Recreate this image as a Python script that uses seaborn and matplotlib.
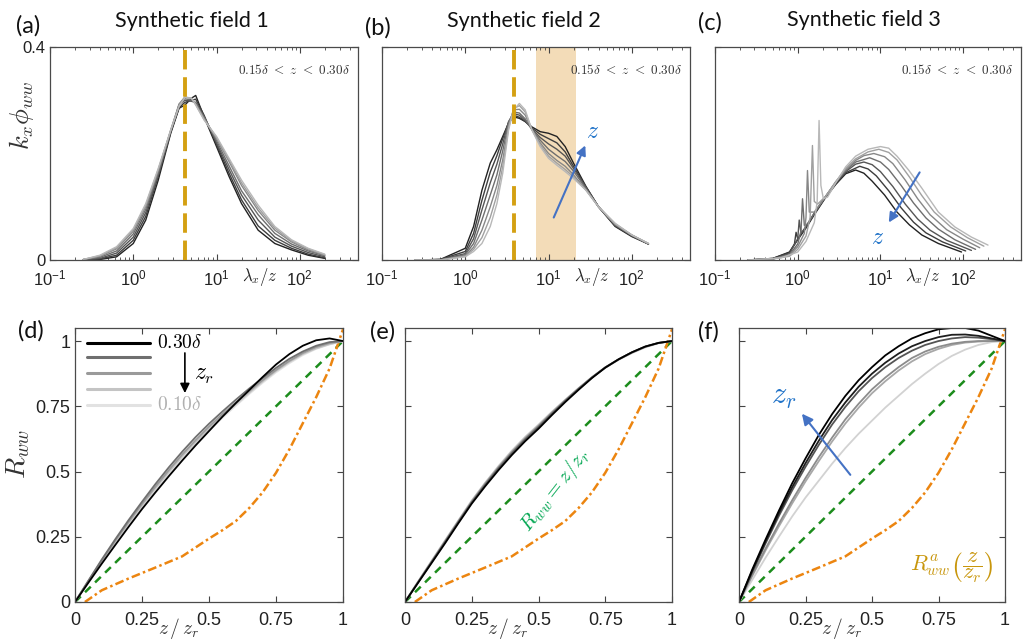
import numpy as np
import seaborn as sns
import matplotlib.pyplot as plt
from matplotlib.ticker import LogLocator, NullFormatter

# ---------------- data ----------------
# top row: log10(lambda_x / z) and k_x phi_ww, curves ordered dark -> light
a_log_lam = [-0.6, -0.4, -0.2, 0.0, 0.15, 0.3, 0.45, 0.55, 0.62, 0.7,
             0.75, 0.85, 1.0, 1.15, 1.3, 1.5, 1.7, 1.9, 2.1, 2.3]
a_kphi = [
    [0.000, 0.001, 0.006, 0.031, 0.075, 0.150, 0.238, 0.285, 0.291, 0.304,
     0.309, 0.269, 0.213, 0.157, 0.106, 0.056, 0.031, 0.019, 0.009, 0.003],
    [0.000, 0.002, 0.009, 0.037, 0.082, 0.157, 0.240, 0.286, 0.296, 0.300,
     0.302, 0.272, 0.217, 0.163, 0.113, 0.064, 0.037, 0.022, 0.011, 0.004],
    [0.000, 0.003, 0.013, 0.043, 0.089, 0.160, 0.241, 0.290, 0.300, 0.298,
     0.296, 0.270, 0.220, 0.170, 0.122, 0.075, 0.043, 0.026, 0.014, 0.006],
    [0.001, 0.005, 0.017, 0.049, 0.095, 0.163, 0.242, 0.292, 0.303, 0.300,
     0.294, 0.268, 0.224, 0.177, 0.130, 0.085, 0.050, 0.030, 0.017, 0.008],
    [0.001, 0.007, 0.021, 0.054, 0.100, 0.168, 0.244, 0.293, 0.306, 0.303,
     0.293, 0.266, 0.228, 0.185, 0.140, 0.093, 0.056, 0.034, 0.019, 0.009],
    [0.001, 0.008, 0.023, 0.057, 0.103, 0.170, 0.244, 0.290, 0.306, 0.304,
     0.292, 0.264, 0.230, 0.188, 0.145, 0.098, 0.060, 0.036, 0.021, 0.010],
    [0.001, 0.009, 0.025, 0.059, 0.106, 0.172, 0.244, 0.288, 0.305, 0.304,
     0.291, 0.263, 0.232, 0.191, 0.150, 0.103, 0.063, 0.038, 0.022, 0.011],
]

b_log_lam = [-0.6, -0.3, 0.0, 0.1, 0.2, 0.3, 0.38, 0.45, 0.52, 0.58, 0.65, 0.72,
             0.8, 0.9, 1.0, 1.1, 1.2, 1.3, 1.45, 1.6, 1.8, 2.0, 2.2]
b_kphi = [
    [0.0, 0.001, 0.022, 0.063, 0.131, 0.182, 0.207, 0.232, 0.257, 0.269, 0.266, 0.260,
     0.250, 0.241, 0.238, 0.232, 0.213, 0.182, 0.138, 0.100, 0.063, 0.044, 0.030],
    [0.0, 0.001, 0.016, 0.050, 0.112, 0.165, 0.196, 0.228, 0.258, 0.272, 0.268, 0.260,
     0.248, 0.236, 0.228, 0.220, 0.203, 0.176, 0.137, 0.100, 0.064, 0.045, 0.030],
    [0.0, 0.001, 0.012, 0.040, 0.094, 0.145, 0.180, 0.218, 0.260, 0.275, 0.272, 0.262,
     0.246, 0.230, 0.218, 0.208, 0.195, 0.172, 0.136, 0.100, 0.065, 0.046, 0.030],
    [0.0, 0.000, 0.010, 0.031, 0.075, 0.122, 0.160, 0.205, 0.258, 0.278, 0.276, 0.265,
     0.245, 0.225, 0.208, 0.196, 0.185, 0.167, 0.134, 0.100, 0.066, 0.046, 0.030],
    [0.0, 0.000, 0.008, 0.024, 0.056, 0.100, 0.140, 0.188, 0.252, 0.282, 0.283, 0.272,
     0.245, 0.220, 0.200, 0.187, 0.176, 0.160, 0.132, 0.100, 0.067, 0.047, 0.031],
    [0.0, 0.000, 0.007, 0.020, 0.042, 0.080, 0.122, 0.175, 0.248, 0.284, 0.290, 0.278,
     0.245, 0.216, 0.195, 0.182, 0.170, 0.156, 0.131, 0.100, 0.068, 0.047, 0.031],
    [0.0, 0.000, 0.006, 0.016, 0.031, 0.063, 0.106, 0.163, 0.244, 0.282, 0.294, 0.282,
     0.244, 0.213, 0.191, 0.178, 0.166, 0.153, 0.131, 0.100, 0.069, 0.047, 0.031],
]

c_log_lam = [
    [-0.6, -0.3, -0.1, 0.0, 0.1, 0.2, 0.34, 0.46, 0.58, 0.70, 0.80, 0.90, 1.05, 1.20,
     1.35, 1.50, 1.70, 1.98],
    [-0.6, -0.3, -0.1, -0.04, -0.02, 0.0, 0.1, 0.2, 0.34, 0.46, 0.58, 0.75, 0.85, 0.95,
     1.1, 1.25, 1.4, 1.55, 1.75, 2.03],
    [-0.6, -0.3, -0.1, 0.0, 0.018, 0.04, 0.1, 0.2, 0.34, 0.46, 0.58, 0.7, 0.8, 0.9, 1.0,
     1.15, 1.3, 1.45, 1.6, 1.8, 2.1],
    [-0.6, -0.3, -0.1, 0.0, 0.04, 0.058, 0.08, 0.12, 0.2, 0.34, 0.46, 0.58, 0.7, 0.87,
     1.0, 1.1, 1.25, 1.4, 1.55, 1.7, 1.9, 2.15],
    [-0.6, -0.3, -0.1, 0.0, 0.08, 0.1, 0.118, 0.14, 0.2, 0.34, 0.46, 0.58, 0.7, 0.8, 0.92,
     1.05, 1.15, 1.3, 1.45, 1.6, 1.8, 2.0, 2.2],
    [-0.6, -0.3, -0.1, 0.0, 0.1, 0.15, 0.178, 0.2, 0.24, 0.34, 0.46, 0.58, 0.7, 0.85, 0.98,
     1.1, 1.2, 1.35, 1.5, 1.65, 1.85, 2.05, 2.25],
    [-0.6, -0.2, 0.0, 0.1, 0.2, 0.235, 0.258, 0.28, 0.31, 0.36, 0.46, 0.58, 0.7, 0.85, 1.0,
     1.1, 1.2, 1.34, 1.5, 1.7, 1.9, 2.1, 2.3],
]
c_kphi = [
    [0, 0.003, 0.015, 0.038, 0.06, 0.085, 0.118, 0.142, 0.162, 0.169, 0.163, 0.148, 0.122,
     0.090, 0.066, 0.047, 0.031, 0.015],
    [0, 0.003, 0.014, 0.03, 0.052, 0.04, 0.062, 0.087, 0.119, 0.143, 0.164, 0.176, 0.171,
     0.158, 0.130, 0.098, 0.071, 0.051, 0.034, 0.017],
    [0, 0.002, 0.012, 0.04, 0.075, 0.05, 0.063, 0.088, 0.12, 0.145, 0.166, 0.18, 0.184,
     0.179, 0.166, 0.138, 0.105, 0.077, 0.056, 0.037, 0.018],
    [0, 0.002, 0.01, 0.03, 0.055, 0.115, 0.065, 0.068, 0.088, 0.12, 0.146, 0.168, 0.184,
     0.192, 0.184, 0.17, 0.14, 0.107, 0.079, 0.058, 0.038, 0.02],
    [0, 0.002, 0.009, 0.025, 0.05, 0.08, 0.168, 0.09, 0.09, 0.12, 0.147, 0.17, 0.187, 0.196,
     0.2, 0.194, 0.181, 0.15, 0.115, 0.085, 0.057, 0.039, 0.023],
    [0, 0.002, 0.007, 0.02, 0.045, 0.08, 0.215, 0.11, 0.105, 0.12, 0.147, 0.172, 0.19, 0.203,
     0.208, 0.202, 0.188, 0.156, 0.121, 0.09, 0.062, 0.042, 0.026],
    [0, 0.004, 0.015, 0.035, 0.07, 0.11, 0.262, 0.14, 0.115, 0.118, 0.145, 0.175, 0.195,
     0.208, 0.213, 0.21, 0.195, 0.169, 0.135, 0.09, 0.062, 0.043, 0.028],
]

peak_line_a = 4.17
peak_line_b = 3.84
band_b = [7.05, 21.3]

# bottom row: R_ww against z / z_r, curves ordered dark -> light
z_ratio = [0, .05, .1, .15, .2, .25, .3, .35, .4, .45, .5, .55, .6, .65, .7, .75, .8,
           .85, .9, .95, 1.0]
d_rww = [
    [0, .074, .147, .218, .288, .356, .42, .482, .542, .6, .655, .71, .762, .812, .862, .91,
     .95, .982, 1.003, 1.01, 1.0],
    [0, .082, .163, .24, .314, .384, .452, .516, .576, .632, .683, .73, .775, .818, .858,
     .897, .932, .96, .982, .996, 1.0],
    [0, .080, .159, .235, .307, .376, .442, .505, .565, .62, .672, .72, .765, .808, .85,
     .889, .924, .954, .977, .992, 1.0],
    [0, .079, .156, .231, .302, .37, .436, .498, .558, .613, .664, .712, .758, .802, .845,
     .885, .92, .95, .972, .988, 1.0],
    [0, .078, .155, .228, .297, .364, .43, .492, .552, .607, .658, .706, .752, .797, .84,
     .88, .915, .946, .97, .987, 1.0],
]
e_rww = [
    [0, .075, .15, .225, .302, .377, .443, .505, .563, .616, .664, .716, .766, .813, .858,
     .898, .93, .957, .979, .993, 1.0],
    [0, .077, .153, .229, .306, .381, .448, .511, .569, .622, .670, .721, .770, .816, .860,
     .899, .930, .957, .979, .993, 1.0],
    [0, .078, .155, .232, .309, .384, .452, .515, .573, .626, .674, .724, .772, .818, .861,
     .899, .930, .956, .978, .993, 1.0],
    [0, .079, .157, .234, .311, .387, .455, .518, .577, .630, .677, .727, .774, .819, .861,
     .898, .929, .955, .977, .992, 1.0],
    [0, .080, .158, .236, .313, .389, .457, .521, .580, .633, .680, .729, .775, .819, .860,
     .897, .928, .954, .976, .992, 1.0],
]
f_rww = [
    [0, .125, .24, .35, .455, .55, .64, .72, .79, .85, .90, .945, .98, 1.01, 1.03, 1.045,
     1.05, 1.05, 1.04, 1.02, 1.0],
    [0, .12, .232, .34, .44, .532, .618, .697, .765, .825, .875, .917, .952, .98, 1.0,
     1.015, 1.024, 1.025, 1.02, 1.01, 1.0],
    [0, .115, .225, .33, .428, .518, .602, .68, .748, .808, .858, .9, .935, .963, .985,
     1.0, 1.01, 1.015, 1.013, 1.007, 1.0],
    [0, .105, .205, .30, .39, .475, .555, .63, .70, .76, .815, .86, .90, .935, .96, .978,
     .99, .997, 1.0, 1.0, 1.0],
    [0, .10, .198, .29, .378, .462, .54, .615, .684, .745, .80, .846, .887, .922, .95, .97,
     .985, .994, .998, 1.0, 1.0],
    [0, .085, .17, .25, .328, .40, .465, .53, .59, .645, .695, .745, .79, .835, .875, .912,
     .943, .967, .985, .996, 1.0],
]
linear_x = [0, 1]
linear_y = [0, 1]
model_x = [0.037, 0.1, 0.2, 0.3, 0.4, 0.5, 0.55, 0.6, 0.65, 0.7, 0.75, 0.8, 0.85, 0.9,
           0.95, 1.0]
model_y = [0, 0.045, 0.09, 0.132, 0.175, 0.243, 0.275, 0.31, 0.36, 0.42, 0.495, 0.585,
           0.685, 0.785, 0.895, 1.045]

top_grays = ['#222222', '#3d3d3d', '#555555', '#6e6e6e', '#878787', '#a0a0a0', '#b8b8b8']
d_grays = ['#000000', '#6f6f6f', '#9a9a9a', '#c4c4c4', '#e2e2e2']
e_grays = ['#000000', '#5a5a5a', '#8a8a8a', '#b5b5b5', '#d5d5d5']
f_grays = ['#000000', '#1e1e1e', '#555555', '#8c8c8c', '#a8a8a8', '#d2d2d2']

# ---------------- figure ----------------
sns.set_style("ticks")
plt.rcParams['font.family'] = ['Liberation Sans', 'DejaVu Sans']
plt.rcParams['mathtext.fontset'] = 'cm'

W, H = 1023, 640
fig = plt.figure(figsize=(W / 100, H / 100), dpi=100)


def px_axes(left, top, w, h):
    return fig.add_axes([left / W, 1 - (top + h) / H, w / W, h / H])


def frame(ax):
    for s in ax.spines.values():
        s.set_color('#4a4a4a')
        s.set_linewidth(0.9)
    ax.tick_params(which='both', direction='in', top=True, right=True,
                   color='#444444', labelsize=12, labelcolor='#222222')
    ax.tick_params(which='major', length=4)
    ax.tick_params(which='minor', length=2)


def style_top(ax, show_y):
    ax.set_xscale('log')
    ax.set_xlim(0.1, 500)
    ax.set_ylim(0, 0.4)
    ax.set_yticks([0, 0.4])
    ax.set_yticklabels(['0', '0.4'] if show_y else [])
    ax.xaxis.set_major_locator(LogLocator(base=10, numticks=10))
    ax.xaxis.set_minor_locator(LogLocator(base=10, subs=np.arange(2, 10), numticks=30))
    ax.xaxis.set_minor_formatter(NullFormatter())
    frame(ax)
    ax.tick_params(axis='x', which='major', pad=6)
    ax.set_xlabel(r'$\lambda_x/z$', fontsize=12, color='#222222')
    ax.xaxis.set_label_coords(0.68, -0.03)
    ax.text(0.975, 0.89, r'$0.15\delta\ <\ z\ <\ 0.30\delta$', transform=ax.transAxes,
            ha='right', va='center', fontsize=9.5, color='#333333')


def style_bottom(ax, show_y):
    ax.set_xlim(0, 1)
    ax.set_ylim(0, 1.05)
    ticks = [0, 0.25, 0.5, 0.75, 1]
    labels = ['0', '0.25', '0.5', '0.75', '1']
    ax.set_xticks(ticks)
    ax.set_xticklabels(labels)
    ax.set_yticks(ticks)
    ax.set_yticklabels(labels if show_y else [])
    frame(ax)
    ax.tick_params(labelsize=13)
    ax.tick_params(axis='x', pad=7)
    # axis title sits between the 0.25 and 0.5 tick labels, as in the original
    ax.set_xlabel(r'$z\,/\,z_r$', fontsize=14, color='#333333')
    ax.xaxis.set_label_coords(0.386, -0.05)
    sns.lineplot(x=linear_x, y=linear_y, ax=ax, color='#1c8c1c', lw=1.8,
                 linestyle=(0, (3.2, 2.4)))
    sns.lineplot(x=model_x, y=model_y, ax=ax, color='#ec8510', lw=1.8,
                 linestyle=(0, (3.5, 1.3, 1, 1.3)))


ax_a = px_axes(50, 47, 308, 213)
ax_b = px_axes(382, 47, 308, 213)
ax_c = px_axes(715, 47, 306, 213)

for vals, col in zip(a_kphi, top_grays):
    sns.lineplot(x=np.power(10.0, a_log_lam), y=vals, ax=ax_a, color=col, lw=1.0)
for vals, col in zip(b_kphi, top_grays):
    sns.lineplot(x=np.power(10.0, b_log_lam), y=vals, ax=ax_b, color=col, lw=1.0)
for xs, vals, col in zip(c_log_lam, c_kphi, top_grays):
    sns.lineplot(x=np.power(10.0, xs), y=vals, ax=ax_c, color=col, lw=1.0)

ax_b.axvspan(band_b[0], band_b[1], color='#f3dcb8', lw=0, zorder=0)
ax_a.axvline(peak_line_a, color='#d4a012', lw=2.8, linestyle=(0, (5, 2)), zorder=5)
ax_b.axvline(peak_line_b, color='#d4a012', lw=2.8, linestyle=(0, (5, 2)), zorder=5)

style_top(ax_a, True)
style_top(ax_b, False)
style_top(ax_c, False)

ax_a.set_ylabel(r'$k_x\phi_{ww}$', fontsize=19, color='#333333')
ax_a.yaxis.set_label_coords(-0.045, 0.68)

blue = '#4472c4'
ax_b.annotate('', xy=(28.5, 0.22), xytext=(11.2, 0.075),
              arrowprops=dict(arrowstyle='-|>', color=blue, lw=1.5, mutation_scale=14))
ax_b.text(33.6, 0.24, r'$z$', color='#1f72c8', fontsize=17, ha='center', va='center')
ax_c.annotate('', xy=(12.1, 0.066), xytext=(31, 0.169),
              arrowprops=dict(arrowstyle='-|>', color=blue, lw=1.5, mutation_scale=14))
ax_c.text(9.2, 0.041, r'$z$', color='#1f72c8', fontsize=17, ha='center', va='center')

ax_d = px_axes(75, 328, 268, 274)
ax_e = px_axes(405, 328, 267, 274)
ax_f = px_axes(739, 328, 266, 274)

style_bottom(ax_d, True)
style_bottom(ax_e, False)
style_bottom(ax_f, False)

for vals, col in reversed(list(zip(d_rww, d_grays))):
    sns.lineplot(x=z_ratio, y=vals, ax=ax_d, color=col, lw=1.3)
for vals, col in reversed(list(zip(e_rww, e_grays))):
    sns.lineplot(x=z_ratio, y=vals, ax=ax_e, color=col, lw=1.3)
for vals, col in reversed(list(zip(f_rww, f_grays))):
    sns.lineplot(x=z_ratio, y=vals, ax=ax_f, color=col, lw=1.3)

ax_d.set_ylabel(r'$R_{ww}$', fontsize=20, color='#333333')
ax_d.yaxis.set_label_coords(-0.16, 0.54)

# legend of panel (d)
legend_rows = [0.945, 0.894, 0.836, 0.777, 0.719]
for yy, col in zip(legend_rows, d_grays):
    ax_d.plot([0.045, 0.28], [yy, yy], transform=ax_d.transAxes, color=col, lw=2.2)
ax_d.text(0.305, legend_rows[0], r'$\mathrm{0.30}\delta$', transform=ax_d.transAxes,
          fontsize=14, va='center', ha='left', color='k')
ax_d.text(0.305, legend_rows[-1], r'$\mathrm{0.10}\delta$', transform=ax_d.transAxes,
          fontsize=14, va='center', ha='left', color='#b0b0b0')
ax_d.annotate('', xy=(0.41, 0.79), xytext=(0.41, 0.965),
              arrowprops=dict(arrowstyle='-|>', color='k', lw=1.2, mutation_scale=14))
ax_d.text(0.48, 0.87, r'$z_r$', fontsize=17, color='k', ha='center', va='center')

ax_e.text(0.56, 0.43, r'$R_{ww} = z/z_r$', color='#00a651', fontsize=15,
          rotation=52, ha='center', va='center')

ax_f.annotate('', xy=(0.23, 0.73), xytext=(0.425, 0.479),
              arrowprops=dict(arrowstyle='-|>', color=blue, lw=1.5, mutation_scale=16))
ax_f.text(0.17, 0.79, r'$z_r$', color='#1f72c8', fontsize=22, ha='center', va='center')
ax_f.text(0.80, 0.13, r'$R^{a}_{ww}\left(\dfrac{z}{z_r}\right)$', color='#c8960c',
          fontsize=16, ha='center', va='center')

# titles and panel letters
title_font = dict(family=['Lato', 'DejaVu Sans'], fontsize=15.5, color='#111111')
fig.text(192 / W, 1 - 21 / H, 'Synthetic field 1', ha='center', va='center', **title_font)
fig.text(524 / W, 1 - 21 / H, 'Synthetic field 2', ha='center', va='center', **title_font)
fig.text(864 / W, 1 - 20 / H, 'Synthetic field 3', ha='center', va='center', **title_font)
letter_font = dict(family=['Lato', 'DejaVu Sans'], fontsize=17, color='#111111')
for lab, xp, yp in [('(a)', 28, 26), ('(b)', 378, 28), ('(c)', 710, 23),
                    ('(d)', 31, 331), ('(e)', 383, 332), ('(f)', 708, 332)]:
    fig.text(xp / W, 1 - yp / H, lab, ha='center', va='center', **letter_font)

fig.savefig('out.png', dpi=100)
